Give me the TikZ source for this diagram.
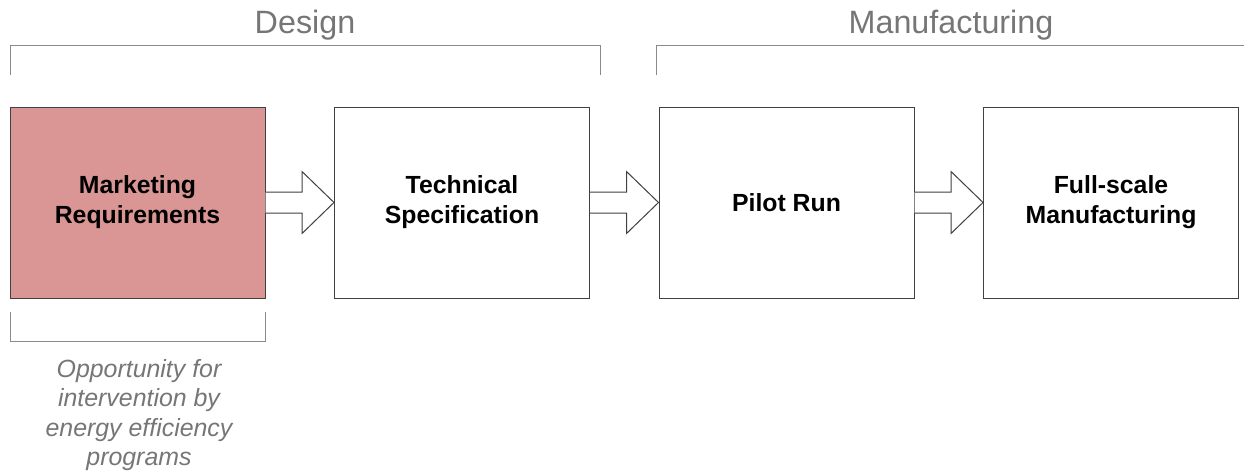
\documentclass[tikz,border=0pt]{standalone}
\usepackage{fontspec}
\setmainfont{Liberation Sans}
\usetikzlibrary{calc}
\definecolor{boxred}{HTML}{D99694}
\definecolor{edgegray}{HTML}{404040}
\definecolor{labelgray}{HTML}{767676}
\definecolor{bracketgray}{HTML}{8A8A8A}
\tikzset{
  stagebox/.style={draw=edgegray, line width=1pt, fill=white, minimum width=255pt,
    minimum height=191pt, inner sep=0pt, align=center,
    font=\fontsize{24.8}{30}\selectfont\bfseries},
  phaselabel/.style={text=labelgray, font=\fontsize{32.3}{36}\selectfont, inner sep=0pt},
  bracket/.style={draw=bracketgray, line width=1pt},
  blockarrow/.style={draw=edgegray, line width=1pt, fill=white, line join=miter},
  note/.style={text=labelgray, align=center, inner sep=0pt,
    font=\fontsize{24.9}{29.5}\selectfont\itshape}
}
% block arrow from the east side of #1 to the west side of #2
\newcommand{\stagearrow}[2]{%
  \draw[blockarrow] let \p1=(#1.east), \p2=(#2.west) in
    (\x1,\y1+10.5) -- (\x2-32pt,\y1+10.5) -- (\x2-32pt,\y1+31pt) -- (\x2,\y1)
    -- (\x2-32pt,\y1-31pt) -- (\x2-32pt,\y1-10.5) -- (\x1,\y1-10.5);}
\begin{document}
\begin{tikzpicture}[x=1pt, y=-1pt]
\useasboundingbox (0,0) rectangle (1244,471);

% process stages
\node[stagebox, fill=boxred] (mkt) at (137.5,202.5) {Marketing\\Requirements};
\node[stagebox] (tech) at (462,202.5) {Technical\\Specification};
\node[stagebox] (pilot) at (786.5,202.5) {Pilot Run};
\node[stagebox] (full) at (1111,202.5) {Full-scale\\Manufacturing};

\stagearrow{mkt}{tech}
\stagearrow{tech}{pilot}
\stagearrow{pilot}{full}

% phase brackets and headings
\draw[bracket] (10,75) -- (10,45) -- (600,45) -- (600,75);
\draw[bracket] (656,75) -- (656,45) -- (1244,45);
\node[phaselabel] (design) at (305,25) {Design};
\node[phaselabel] (manuf) at (951,25) {Manufacturing};

% intervention bracket and note
\draw[bracket] (10,312) -- (10,341) -- (265,341) -- (265,312);
\node[note, anchor=north] (opp) at (139,359) {Opportunity for\\intervention by\\energy efficiency\\programs};
\end{tikzpicture}
\end{document}
